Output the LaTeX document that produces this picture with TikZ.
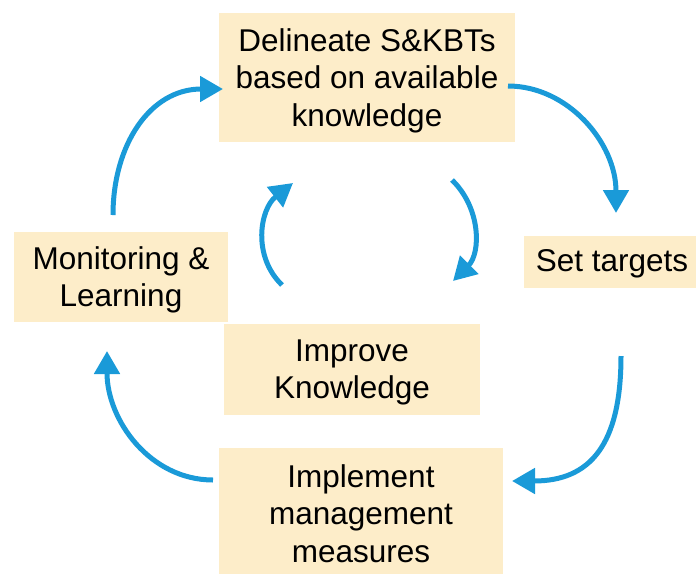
\documentclass[tikz,border=0pt]{standalone}
\usepackage{fontspec}
\setmainfont{Liberation Sans}
\usetikzlibrary{arrows.meta}
\definecolor{boxfill}{HTML}{FDEDC9}
\definecolor{cyclearrow}{HTML}{1A9AD8}
\tikzset{
  stagebox/.style={fill=boxfill, inner sep=0pt},
  stagetext/.style={inner sep=0pt, align=center,
    font=\fontsize{31.5}{37.5}\selectfont, text=black},
  cyclearc/.style={draw=cyclearrow, line width=5pt,
    -{Triangle[length=23pt,width=25pt]}}
}
\begin{document}
\begin{tikzpicture}[x=1pt,y=-1pt]
\useasboundingbox (0,0) rectangle (696,574);
\clip (0,0) rectangle (696,574);

% stage boxes
\node[stagebox, minimum width=296pt, minimum height=129pt] (delineate) at (367,77.5) {};
\node[stagebox, minimum width=176pt, minimum height=52pt] (targets) at (612,262) {};
\node[stagebox, minimum width=284pt, minimum height=126pt] (implement) at (361,510.5) {};
\node[stagebox, minimum width=214pt, minimum height=90pt] (monitor) at (121,277) {};
\node[stagebox, minimum width=256pt, minimum height=91pt] (improve) at (352,369.5) {};

% stage labels
\node[stagetext] (delineate-t) at ([yshift=-3pt]delineate.center)
  {Delineate S\&KBTs\\based on available\\knowledge};
\node[stagetext] (targets-t) at ([yshift=-2pt]targets.center) {Set targets};
\node[stagetext] (implement-t) at ([yshift=-3pt]implement.center)
  {Implement\\management\\measures};
\node[stagetext] (monitor-t) at ([yshift=-3pt]monitor.center) {Monitoring \&\\Learning};
\node[stagetext] (improve-t) at ([yshift=-3pt]improve.center) {Improve\\Knowledge};

% arrow ends
\coordinate (a1s) at (508,86);   \coordinate (a1e) at (616,213);
\coordinate (a2s) at (621,356);  \coordinate (a2e) at (512,481);
\coordinate (a3s) at (213,480);  \coordinate (a3e) at (107,351);
\coordinate (a4s) at (113,215);  \coordinate (a4e) at (223,89);
\coordinate (i1s) at (452,180);  \coordinate (i1e) at (453,281);
\coordinate (i2s) at (282,285);  \coordinate (i2e) at (293,183);

% outer cycle
\draw[cyclearc] (a1s) .. controls (568,86) and (616,143) .. (a1e);
\draw[cyclearc] (a2s) .. controls (621,445) and (590,481) .. (a2e);
\draw[cyclearc] (a3s) .. controls (150,480) and (107,420) .. (a3e);
\draw[cyclearc] (a4s) .. controls (113,145) and (150,89) .. (a4e);

% inner cycle
\draw[cyclearc] (i1s) .. controls (481,208) and (481,253) .. (i1e);
\draw[cyclearc] (i2s) .. controls (252,256) and (260,209) .. (i2e);
\end{tikzpicture}
\end{document}
